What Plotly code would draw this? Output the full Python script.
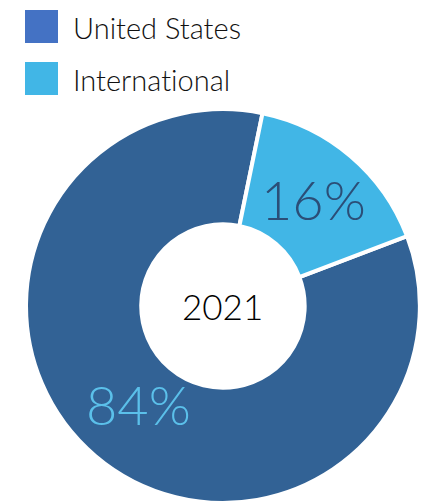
import math
import plotly.graph_objects as go

labels = ["United States", "International"]
values = [84, 16]
slice_colors = ["#326295", "#41B6E6"]
legend_colors = ["#4472C4", "#41B6E6"]
text_colors = ["#5BC0EA", "#2B4E77"]
center_label = "2021"

FONT = "Lato"
W, H = 426, 503
DOM_X = [0.0587, 0.988]
DOM_Y = [0.0, 0.783]
HOLE = 0.415
ROT = 69.2
LABEL_RADIAL = [0.93, 1.0]   # radial placement factor of each percentage label

fig = go.Figure()
fig.add_trace(go.Pie(
    labels=labels,
    values=values,
    sort=False,
    direction="clockwise",
    rotation=ROT,
    hole=HOLE,
    marker=dict(colors=slice_colors, line=dict(color="white", width=4)),
    textinfo="none",
    showlegend=False,
    domain=dict(x=DOM_X, y=DOM_Y),
    hoverinfo="label+percent",
))

# percentage labels placed at each slice's mid-angle / mid-ring
cx = (DOM_X[0] + DOM_X[1]) / 2 * W
cy = (1 - (DOM_Y[0] + DOM_Y[1]) / 2) * H
R = min((DOM_X[1] - DOM_X[0]) * W, (DOM_Y[1] - DOM_Y[0]) * H) / 2
rmid = R * (1 + HOLE) / 2
total = sum(values)
annotations = []
start = ROT
for v, col, f in zip(values, text_colors, LABEL_RADIAL):
    span = v / total * 360
    mid = math.radians(start + span / 2)
    px = cx + f * rmid * math.sin(mid)
    py = cy - f * rmid * math.cos(mid)
    annotations.append(dict(text=f"{round(v / total * 100)}%", xref="paper", yref="paper",
                            x=px / W, y=1 - py / H, showarrow=False,
                            xanchor="center", yanchor="middle",
                            font=dict(family=FONT, size=54, color=col, weight=300)))
    start += span

# legend (large square swatches)
shapes = []
for i, (lab, col) in enumerate(zip(labels, legend_colors)):
    ytop = 10 + i * 52
    shapes.append(dict(type="rect", xref="paper", yref="paper",
                       x0=25 / W, x1=58 / W,
                       y0=1 - (ytop + 33) / H, y1=1 - ytop / H,
                       fillcolor=col, line=dict(width=0)))
    annotations.append(dict(text=lab.replace("ti", "t\u200ci"), xref="paper", yref="paper",
                            x=71 / W, y=1 - (ytop + 17) / H,
                            xanchor="left", yanchor="middle", showarrow=False,
                            font=dict(family=FONT, size=29, color="#111111", weight=300)))

annotations.append(dict(text=center_label, x=cx / W, y=1 - cy / H,
                        xref="paper", yref="paper", showarrow=False,
                        xanchor="center", yanchor="middle",
                        font=dict(family=FONT, size=35, color="black", weight=300)))

fig.update_layout(
    width=W, height=H,
    margin=dict(l=0, r=0, t=0, b=0),
    paper_bgcolor="white", plot_bgcolor="white",
    shapes=shapes, annotations=annotations,
)

fig.write_html("out.html", config={"displayModeBar": False},
               post_script="document.body.style.margin='0';")
